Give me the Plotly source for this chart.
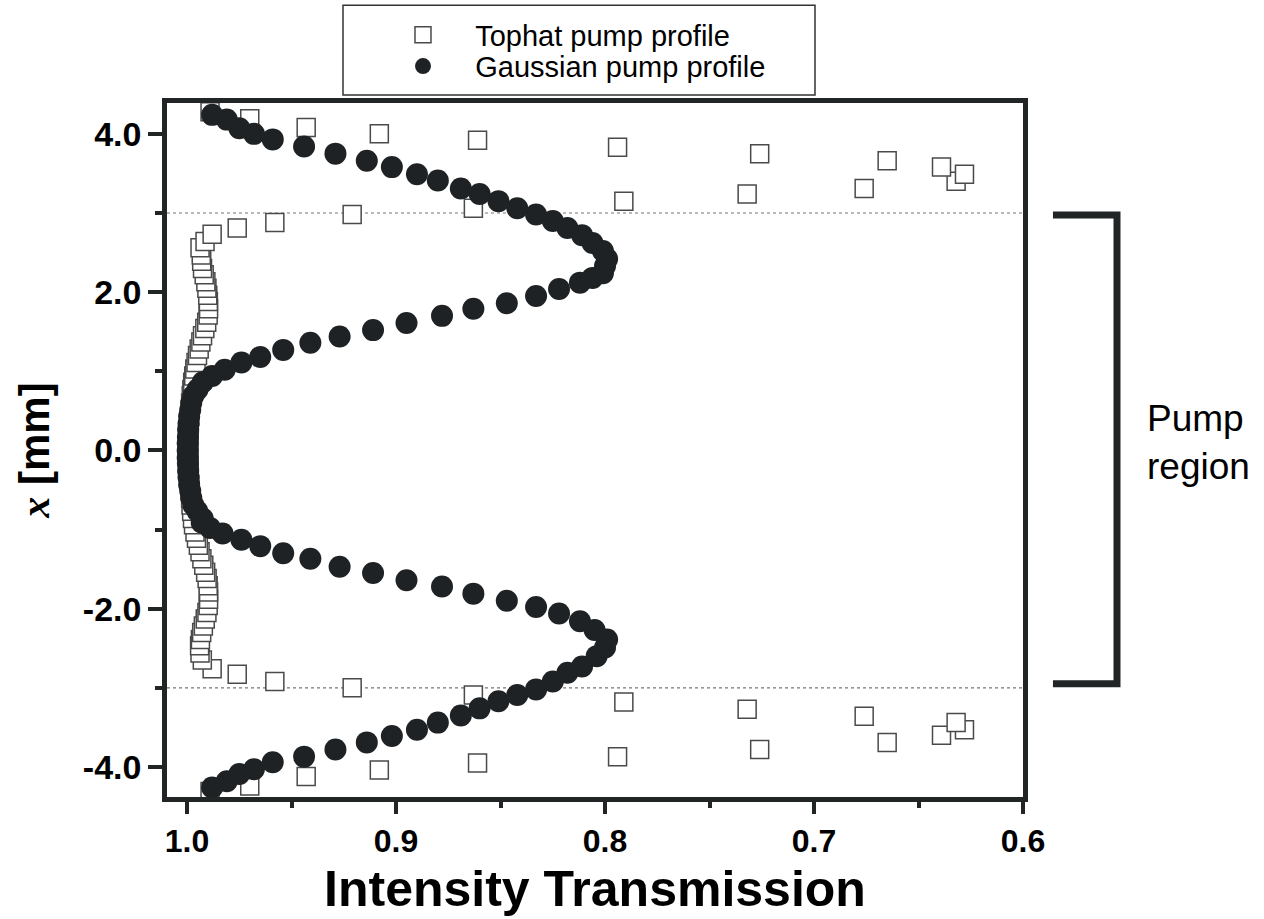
import plotly.graph_objects as go

# Tophat pump profile: position x [mm] and intensity transmission
tophat_pos = [
    -4.31, -4.24, -4.12, -4.04, -3.95, -3.87, -3.78, -3.69, -3.60, -3.53,
    -3.44, -3.36, -3.27, -3.18, -3.09, -3.00, -2.92, -2.83, -2.76,
    -2.65, -2.56, -2.47, -2.39, -2.30, -2.22, -2.13, -2.05, -1.96, -1.88,
    -1.79, -1.71, -1.62, -1.54, -1.45, -1.37, -1.28, -1.20, -1.11, -1.03,
    -0.94, -0.86, -0.77, -0.69, -0.60, -0.51, -0.43, -0.34, -0.26, -0.17,
    -0.09,
    0.00, 0.09, 0.17, 0.26, 0.34, 0.43, 0.51, 0.60, 0.69, 0.77,
    0.86, 0.94, 1.03, 1.11, 1.20, 1.28, 1.37, 1.45, 1.54, 1.62,
    1.71, 1.79, 1.88, 1.96, 2.05, 2.13, 2.22, 2.30, 2.39, 2.47,
    2.56, 2.64,
    2.73, 2.81, 2.88, 2.98, 3.06, 3.15, 3.24, 3.31, 3.40, 3.49,
    3.58, 3.66, 3.75, 3.83, 3.92, 4.00, 4.08, 4.19, 4.28,
]
tophat_trans = [
    0.989, 0.970, 0.943, 0.908, 0.861, 0.794, 0.726, 0.665, 0.639, 0.628,
    0.632, 0.676, 0.732, 0.791, 0.863, 0.921, 0.958, 0.976, 0.988,
    0.9927, 0.9938, 0.9940, 0.9936, 0.9930, 0.9922, 0.9913, 0.9905, 0.9899, 0.9897,
    0.9897, 0.9899, 0.9904, 0.9911, 0.9920, 0.9929, 0.9938, 0.9946, 0.9955, 0.9962,
    0.9969, 0.9974, 0.9978, 0.9981, 0.9983, 0.9985, 0.9987, 0.9989, 0.9990, 0.9991,
    0.9992,
    0.9992, 0.9992, 0.9991, 0.9990, 0.9989, 0.9987, 0.9985, 0.9983, 0.9980, 0.9977,
    0.9973, 0.9968, 0.9963, 0.9957, 0.9950, 0.9942, 0.9934, 0.9926, 0.9915, 0.9906,
    0.9899, 0.9897, 0.9898, 0.9901, 0.9905, 0.9910, 0.9918, 0.9926, 0.9930, 0.9932,
    0.9938, 0.9914,
    0.988, 0.976, 0.958, 0.921, 0.863, 0.791, 0.732, 0.676, 0.632, 0.628,
    0.639, 0.665, 0.726, 0.794, 0.861, 0.908, 0.943, 0.970, 0.989,
]

# Gaussian pump profile: position x [mm] and intensity transmission
gauss_pos = [
    -4.26, -4.18, -4.09, -4.03, -3.94, -3.87, -3.78, -3.69, -3.61, -3.53,
    -3.44, -3.35, -3.26, -3.17, -3.09, -3.02, -2.92, -2.81, -2.73, -2.60,
    -2.49, -2.39, -2.27, -2.16, -2.06, -1.98, -1.90, -1.81, -1.72, -1.64,
    -1.55, -1.47, -1.37, -1.30, -1.21, -1.13, -1.05, -0.98, -0.91,
    -0.86, -0.77, -0.69, -0.60, -0.51, -0.43, -0.34, -0.26, -0.17, -0.09,
    0.00,
    0.09, 0.17, 0.26, 0.34, 0.43, 0.51, 0.60, 0.69, 0.77, 0.86,
    0.94,
    1.02, 1.11, 1.18, 1.27, 1.36, 1.44, 1.52, 1.61, 1.70, 1.79,
    1.86, 1.95, 2.04, 2.12, 2.18, 2.24, 2.33, 2.42, 2.52, 2.62,
    2.72, 2.81, 2.90, 2.98, 3.06, 3.15, 3.24, 3.31, 3.41, 3.49,
    3.58, 3.66, 3.75, 3.84, 3.93, 4.00, 4.07, 4.18, 4.24,
]
gauss_trans = [
    0.988, 0.981, 0.975, 0.968, 0.959, 0.944, 0.929, 0.914, 0.902, 0.890,
    0.880, 0.869, 0.860, 0.851, 0.842, 0.833, 0.825, 0.818, 0.811, 0.804,
    0.800, 0.799, 0.805, 0.812, 0.822, 0.833, 0.847, 0.863, 0.878, 0.895,
    0.911, 0.927, 0.941, 0.954, 0.965, 0.974, 0.983, 0.989, 0.993,
    0.9925, 0.995, 0.997, 0.998, 0.9985, 0.999, 0.9993, 0.9995, 0.9996, 0.9997,
    0.9997,
    0.9997, 0.9996, 0.9995, 0.9993, 0.999, 0.9985, 0.998, 0.997, 0.995, 0.9925,
    0.988,
    0.982, 0.974, 0.965, 0.954, 0.941, 0.927, 0.911, 0.895, 0.878, 0.863,
    0.847, 0.833, 0.822, 0.812, 0.806, 0.801, 0.800, 0.799, 0.801, 0.806,
    0.811, 0.818, 0.825, 0.833, 0.842, 0.851, 0.860, 0.869, 0.880, 0.890,
    0.902, 0.914, 0.929, 0.944, 0.959, 0.968, 0.975, 0.981, 0.988,
]

x_tickvals = [1.0, 0.9, 0.8, 0.7, 0.6]
x_ticktext = ["1.0", "0.9", "0.8", "0.7", "0.6"]
x_minor = [0.95, 0.85, 0.75, 0.65]
y_tickvals = [-4, -2, 0, 2, 4]
y_ticktext = ["-4.0", "-2.0", "0.0", "2.0", "4.0"]
y_minor = [-3, -1, 1, 3]
pump_edges = [-3, 3]

INK = "#222526"
SANS = "Liberation Sans, Arial, sans-serif"

fig = go.Figure()

fig.add_trace(go.Scatter(
    x=tophat_trans, y=tophat_pos, mode="markers",
    name="\u00a0\u00a0\u00a0\u00a0Tophat pump profile",
    marker=dict(symbol="square", size=18, color="white",
                line=dict(color="#4a4a4a", width=1.5)),
    legend="legend",
))
fig.add_trace(go.Scatter(
    x=gauss_trans, y=gauss_pos, mode="markers",
    name="\u00a0\u00a0\u00a0\u00a0Gaussian pump profile",
    marker=dict(symbol="circle", size=22, color="#1f2224",
                line=dict(width=0)),
    legend="legend2",
))

shapes = []
# dotted guide lines at the pump region edges
for yv in pump_edges:
    shapes.append(dict(type="line", xref="paper", yref="y", x0=0, x1=1,
                       y0=yv, y1=yv, layer="below",
                       line=dict(color="#777777", width=1.2, dash="dot")))
# bracket marking the pump region
shapes.append(dict(type="path", xref="paper", yref="y",
                   path="M 1.035,2.975 L 1.1098,2.975 L 1.1098,-2.95 L 1.035,-2.95",
                   line=dict(color=INK, width=7)))
# legend frame
shapes.append(dict(type="rect", xref="paper", yref="paper",
                   x0=0.2056, x1=0.757, y0=1.0115, y1=1.141,
                   line=dict(color="#333333", width=1.5), fillcolor="white",
                   layer="below"))

legend_common = dict(xanchor="left", yanchor="middle", bgcolor="rgba(0,0,0,0)",
                     borderwidth=0, font=dict(family=SANS, size=29, color="black"),
                     itemsizing="trace")

fig.update_layout(
    width=1264, height=919,
    margin=dict(l=167, r=241, t=103, b=122, autoexpand=False),
    paper_bgcolor="white", plot_bgcolor="white",
    showlegend=True,
    legend=dict(x=0.2757, y=1.098, **legend_common),
    legend2=dict(x=0.2757, y=1.053, **legend_common),
    shapes=shapes,
    annotations=[dict(
        xref="paper", yref="y", x=1.1425, y=0.1, xanchor="left", yanchor="middle",
        align="left", showarrow=False, text="Pump<br>region",
        font=dict(family=SANS, size=37, color="black"),
    )],
)

fig.update_xaxes(
    range=[1.0096, 0.6],
    tickvals=x_tickvals, ticktext=x_ticktext,
    ticks="outside", ticklen=12, tickwidth=4, tickcolor=INK,
    tickfont=dict(family=SANS, size=32, color="black", weight="bold"),
    minor=dict(tickvals=x_minor, ticks="outside", ticklen=6, tickwidth=4, tickcolor=INK),
    showline=True, linewidth=4.5, linecolor=INK, mirror=True,
    showgrid=False, zeroline=False,
    title=dict(text="Intensity Transmission", standoff=14,
               font=dict(family=SANS, size=50, color="black", weight="bold")),
)
fig.update_yaxes(
    range=[-4.38, 4.39],
    tickvals=y_tickvals, ticktext=y_ticktext,
    ticks="outside", ticklen=14, tickwidth=4, tickcolor=INK,
    tickfont=dict(family=SANS, size=34, color="black", weight="bold"),
    minor=dict(tickvals=y_minor, ticks="outside", ticklen=7, tickwidth=4, tickcolor=INK),
    showline=True, linewidth=4.5, linecolor=INK, mirror=True,
    showgrid=False, zeroline=False,
    title=dict(
        text="<span style='font-family:Liberation Serif;font-style:italic'>x</span> [mm]",
        standoff=22,
        font=dict(family=SANS, size=42, color="black", weight="bold")),
)

fig.write_html("out.html")
